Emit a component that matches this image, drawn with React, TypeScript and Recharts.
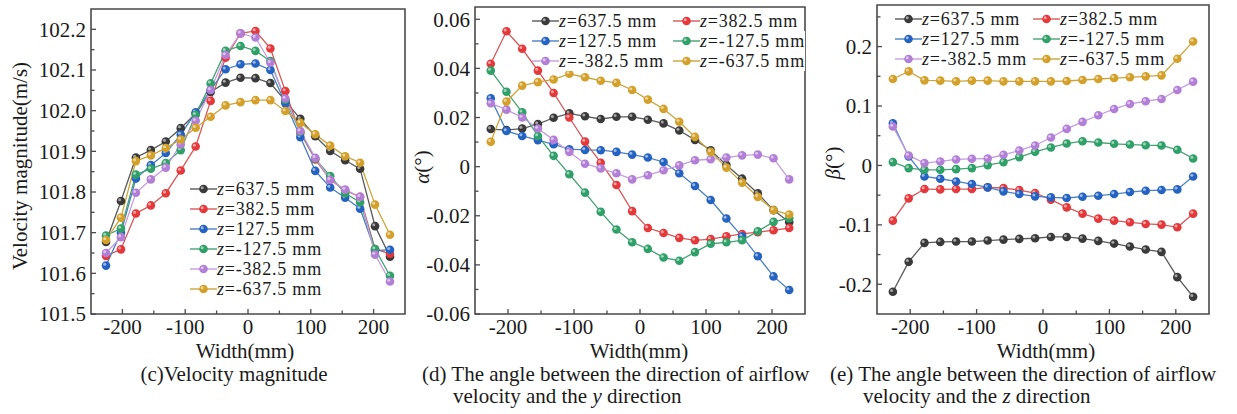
import React from "react";
import { LineChart, Line, XAxis, YAxis, ReferenceArea, Legend } from "recharts";

// measuring positions across the width (mm)
const widthMm = [
  -226.1, -202.3, -178.5, -154.7, -130.9, -107.1, -83.3, -59.5, -35.7, -11.9,
  11.9, 35.7, 59.5, 83.3, 107.1, 130.9, 154.7, 178.5, 202.3, 226.1,
];
const zLabels = ["637.5", "382.5", "127.5", "-127.5", "-382.5", "-637.5"];
const dotColors = ["#3a3a3a", "#e5383b", "#2563c2", "#2ea068", "#b27ed6", "#d3a02a"];
const lineColors = ["#5a5a5a", "#d65a5a", "#4a80c2", "#45a272", "#c49ce0", "#cba53c"];

const xMajor = [-200, -100, 0, 100, 200];
const xMinor = [-150, -50, 50, 150];

// (c) velocity magnitude, m/s
const vel637 = [101.677, 101.778, 101.885, 101.903, 101.924, 101.957, 101.993, 102.046, 102.069, 102.081, 102.08, 102.068, 102.024, 101.98, 101.937, 101.901, 101.878, 101.857, 101.716, 101.641];
const vel382 = [101.643, 101.659, 101.747, 101.767, 101.797, 101.853, 101.912, 102.024, 102.13, 102.19, 102.196, 102.153, 102.048, 101.945, 101.88, 101.83, 101.804, 101.788, 101.66, 101.648];
const vel127 = [101.619, 101.7, 101.833, 101.866, 101.896, 101.941, 101.996, 102.051, 102.102, 102.114, 102.116, 102.1, 102.018, 101.935, 101.852, 101.811, 101.786, 101.759, 101.656, 101.658];
const velM127 = [101.693, 101.71, 101.843, 101.857, 101.871, 101.903, 101.99, 102.067, 102.147, 102.159, 102.147, 102.122, 102.027, 101.948, 101.882, 101.839, 101.797, 101.775, 101.66, 101.594];
const velM382 = [101.65, 101.689, 101.798, 101.831, 101.86, 101.917, 101.975, 102.051, 102.137, 102.19, 102.18, 102.118, 102.03, 101.95, 101.884, 101.83, 101.806, 101.788, 101.646, 101.58];
const velM637 = [101.682, 101.737, 101.876, 101.89, 101.908, 101.929, 101.958, 101.985, 102.013, 102.021, 102.026, 102.026, 101.999, 101.97, 101.942, 101.914, 101.888, 101.872, 101.769, 101.695];
const velMajor = [101.5, 101.6, 101.7, 101.8, 101.9, 102.0, 102.1, 102.2];
const velMinor = [101.55, 101.65, 101.75, 101.85, 101.95, 102.05, 102.15];

// (d) alpha, degrees
const a637 = [0.0153, 0.0149, 0.0155, 0.0173, 0.0199, 0.0217, 0.0205, 0.0194, 0.0203, 0.0203, 0.0191, 0.0176, 0.0147, 0.0109, 0.0067, 0.0007, -0.0049, -0.0109, -0.0177, -0.0226];
const a382 = [0.0419, 0.0551, 0.048, 0.0391, 0.03, 0.02, 0.0102, 0.0016, -0.0075, -0.0181, -0.025, -0.027, -0.029, -0.03, -0.0295, -0.0284, -0.0274, -0.0267, -0.0259, -0.025];
const a127 = [0.0278, 0.0145, 0.0125, 0.0108, 0.0091, 0.0071, 0.0068, 0.0067, 0.006, 0.0049, 0.0037, 0.0019, -0.0027, -0.0079, -0.0136, -0.0211, -0.0284, -0.0365, -0.0447, -0.0502];
const aM127 = [0.0391, 0.0305, 0.0221, 0.0125, 0.0044, -0.0031, -0.0106, -0.0184, -0.0256, -0.0308, -0.0335, -0.037, -0.0383, -0.0348, -0.0314, -0.0308, -0.03, -0.0263, -0.0225, -0.021];
const aM382 = [0.0258, 0.0232, 0.02, 0.0155, 0.0109, 0.006, 0.0012, -0.0007, -0.0027, -0.0052, -0.0035, -0.0015, 0.0005, 0.0026, 0.003, 0.0037, 0.0046, 0.0049, 0.0034, -0.0052];
const aM637 = [0.0101, 0.0265, 0.033, 0.0344, 0.0355, 0.0378, 0.0364, 0.035, 0.0341, 0.0312, 0.0273, 0.0235, 0.0183, 0.0121, 0.006, -0.0004, -0.0065, -0.0123, -0.0177, -0.0195];
const alphaMajor = [-0.06, -0.04, -0.02, 0, 0.02, 0.04, 0.06];
const alphaMinor = [-0.05, -0.03, -0.01, 0.01, 0.03, 0.05];

// (e) beta, degrees
const b637 = [-0.2126, -0.1622, -0.1303, -0.1287, -0.1281, -0.1281, -0.1264, -0.1248, -0.1236, -0.1225, -0.1203, -0.1203, -0.1231, -0.127, -0.1315, -0.1365, -0.1415, -0.1455, -0.188, -0.221];
const b382 = [-0.0929, -0.0554, -0.0397, -0.0403, -0.0397, -0.0397, -0.0369, -0.038, -0.0414, -0.0464, -0.0576, -0.0705, -0.0811, -0.0895, -0.0929, -0.0957, -0.0985, -0.0996, -0.1041, -0.0811];
const b127 = [0.071, 0.0151, -0.0185, -0.0224, -0.0269, -0.0313, -0.0369, -0.0436, -0.0481, -0.052, -0.0537, -0.0548, -0.0526, -0.0509, -0.0481, -0.0448, -0.0425, -0.0414, -0.0403, -0.0185];
const bM127 = [0.0056, -0.0045, -0.0073, -0.0073, -0.0062, -0.0045, 0.0006, 0.0056, 0.014, 0.0229, 0.0302, 0.0369, 0.0408, 0.0386, 0.0364, 0.0352, 0.0341, 0.0336, 0.0263, 0.0117];
const bM382 = [0.0655, 0.0168, 0.0039, 0.0067, 0.0101, 0.0112, 0.0117, 0.0179, 0.0252, 0.0336, 0.047, 0.0615, 0.0733, 0.0845, 0.0951, 0.1035, 0.108, 0.1119, 0.127, 0.141];
const bM637 = [0.1455, 0.1583, 0.1432, 0.1427, 0.1415, 0.1427, 0.1427, 0.1415, 0.1415, 0.1415, 0.1415, 0.1421, 0.1438, 0.1455, 0.1471, 0.1483, 0.1499, 0.1516, 0.1796, 0.2087];
const betaMajor = [-0.2, -0.1, 0, 0.1, 0.2];
const betaMinor = [-0.15, -0.05, 0.05, 0.15, 0.25];

const FONT = "'Liberation Serif', 'Times New Roman', serif";
const INK = "#1a1a1a";
const FRAME = "#4a4a4a";

function Ball(props: any) {
  const { cx, cy, index, fill } = props;
  if (cx == null || cy == null) return <g key={index} />;
  return (
    <g key={index}>
      <circle cx={cx} cy={cy} r={4.3} fill={fill} />
      <circle cx={cx - 1.3} cy={cy - 1.3} r={1.5} fill="#fff" opacity={0.55} />
    </g>
  );
}

function makeXTick(gap: number) {
  return (p: any) => {
    const v = p.payload.value;
    const major = xMajor.includes(v);
    const ay = p.y - gap;
    return (
      <g>
        <line x1={p.x} x2={p.x} y1={ay} y2={ay - (major ? 5 : 3.5)} stroke={FRAME} strokeWidth={1.3} />
        {major && (
          <text x={p.x} y={p.y} dy="0.35em" textAnchor="middle" fontFamily={FONT} fontSize={21} fill={INK}>
            {String(v)}
          </text>
        )}
      </g>
    );
  };
}

function makeYTick(majors: number[], fmt: (v: number) => string, gap: number) {
  return (p: any) => {
    const v = p.payload.value;
    const major = majors.includes(v);
    const ax = p.x + gap;
    return (
      <g>
        <line x1={ax} x2={ax + (major ? 5 : 3.5)} y1={p.y} y2={p.y} stroke={FRAME} strokeWidth={1.3} />
        {major && (
          <text x={p.x} y={p.y} dy="0.35em" textAnchor="end" fontFamily={FONT} fontSize={21} fill={INK}>
            {fmt(v)}
          </text>
        )}
      </g>
    );
  };
}

function makeLegend(cols: number, colWidth: number, rowH: number) {
  return (props: any) => {
    const items = props.payload || [];
    return (
      <div
        style={{
          display: "grid",
          gridTemplateColumns: `repeat(${cols}, ${colWidth}px)`,
          fontFamily: FONT,
          fontSize: 18,
          letterSpacing: 0.8,
          color: INK,
        }}
      >
        {items.map((it: any, i: number) => {
          const k = Number(String(it.dataKey).slice(1));
          return (
            <div key={i} style={{ display: "flex", alignItems: "center", height: rowH, whiteSpace: "nowrap" }}>
              <svg width={27} height={rowH} style={{ display: "block", flex: "none" }}>
                <line x1={0} x2={27} y1={rowH / 2} y2={rowH / 2} stroke={lineColors[k]} strokeWidth={1.4} />
                <circle cx={13.5} cy={rowH / 2} r={4.3} fill={dotColors[k]} />
                <circle cx={12.2} cy={rowH / 2 - 1.3} r={1.5} fill="#fff" opacity={0.55} />
              </svg>
              <span style={{ background: "#fff", lineHeight: `${rowH}px` }}>
                <i>z</i>={it.value} mm
              </span>
            </div>
          );
        })}
      </div>
    );
  };
}

interface PanelProps {
  left: number;
  width: number;
  height: number;
  margin: { top: number; right: number; left: number; bottom: number };
  yWidth: number;
  yDomain: [number, number];
  yMajor: number[];
  yMinor: number[];
  yFmt: (v: number) => string;
  series: number[][];
  legend: { left: number; top: number; cols: number; colWidth: number; rowH: number };
}

function Panel(p: PanelProps) {
  const rows = widthMm.map((w, i) => {
    const r: Record<string, number> = { w };
    p.series.forEach((s, k) => {
      r["s" + k] = s[i];
    });
    return r;
  });
  return (
    <div style={{ position: "absolute", left: p.left, top: 0 }}>
      <LineChart width={p.width} height={p.height} data={rows} margin={p.margin}>
        <XAxis
          dataKey="w"
          type="number"
          domain={[-250, 250]}
          ticks={[...xMajor, ...xMinor]}
          interval={0}
          tickSize={0}
          tickMargin={13}
          tickLine={false}
          axisLine={false}
          tick={makeXTick(13)}
          height={p.height - 314 - p.margin.bottom}
        />
        <YAxis
          type="number"
          domain={p.yDomain}
          ticks={[...p.yMajor, ...p.yMinor]}
          interval={0}
          tickSize={0}
          tickMargin={5}
          tickLine={false}
          axisLine={false}
          tick={makeYTick(p.yMajor, p.yFmt, 5)}
          width={p.yWidth}
        />
        <ReferenceArea
          x1={-250}
          x2={250}
          y1={p.yDomain[0]}
          y2={p.yDomain[1]}
          fill="none"
          fillOpacity={0}
          stroke={FRAME}
          strokeWidth={1.6}
        />
        {p.series.map((_, k) => (
          <Line
            key={k}
            dataKey={"s" + k}
            name={zLabels[k]}
            type="linear"
            stroke={lineColors[k]}
            strokeWidth={1.3}
            dot={(dp: any) => <Ball {...dp} key={dp.index} fill={dotColors[k]} />}
            activeDot={false}
            isAnimationActive={false}
          />
        ))}
        <Legend
          layout="vertical"
          align="center"
          verticalAlign="middle"
          itemSorter="dataKey"
          content={makeLegend(p.legend.cols, p.legend.colWidth, p.legend.rowH)}
          wrapperStyle={{ left: p.legend.left, top: p.legend.top, width: "auto", height: "auto" }}
        />
      </LineChart>
    </div>
  );
}

const textStyle: React.CSSProperties = {
  position: "absolute",
  fontFamily: FONT,
  fontSize: 21,
  color: INK,
  whiteSpace: "nowrap",
  lineHeight: "20px",
};

function Centered({ x, y, children }: { x: number; y: number; children: React.ReactNode }) {
  return <div style={{ ...textStyle, left: x, top: y, transform: "translate(-50%, -50%)" }}>{children}</div>;
}

function Rotated({ x, y, children }: { x: number; y: number; children: React.ReactNode }) {
  return (
    <div style={{ ...textStyle, left: x, top: y, transform: "translate(-50%, -50%) rotate(-90deg)" }}>{children}</div>
  );
}

function LeftText({ x, y, children }: { x: number; y: number; children: React.ReactNode }) {
  return <div style={{ ...textStyle, left: x, top: y - 10 }}>{children}</div>;
}

export default function App() {
  return (
    <div style={{ position: "absolute", left: 0, top: 0, width: 1237, height: 414, background: "#fff", overflow: "hidden" }}>
      <Panel
        left={0}
        width={410}
        height={360}
        margin={{ top: 9, right: 5, left: 0, bottom: 0 }}
        yWidth={91}
        yDomain={[101.5, 102.25]}
        yMajor={velMajor}
        yMinor={velMinor}
        yFmt={(v) => v.toFixed(1)}
        series={[vel637, vel382, vel127, velM127, velM382, velM637]}
        legend={{ left: 190, top: 179, cols: 1, colWidth: 160, rowH: 20 }}
      />
      <Panel
        left={410}
        width={400}
        height={360}
        margin={{ top: 7, right: 5, left: 0, bottom: 0 }}
        yWidth={65}
        yDomain={[-0.06, 0.065]}
        yMajor={alphaMajor}
        yMinor={alphaMinor}
        yFmt={(v) => String(v)}
        series={[a637, a382, a127, aM127, aM382, aM637]}
        legend={{ left: 122, top: 10.5, cols: 2, colWidth: 141, rowH: 20 }}
      />
      <Panel
        left={820}
        width={395}
        height={360}
        margin={{ top: 5, right: 6, left: 0, bottom: 0 }}
        yWidth={57}
        yDomain={[-0.25, 0.27]}
        yMajor={betaMajor}
        yMinor={betaMinor}
        yFmt={(v) => String(v)}
        series={[b637, b382, b127, bM127, bM382, bM637]}
        legend={{ left: 75, top: 9, cols: 2, colWidth: 138, rowH: 20 }}
      />

      <Rotated x={20} y={166}>Velocity magnitude(m/s)</Rotated>
      <Rotated x={422} y={167}>
        <i>α</i>(°)
      </Rotated>
      <Rotated x={833} y={163}>
        <i>β</i>(°)
      </Rotated>

      <Centered x={245} y={351}>Width(mm)</Centered>
      <Centered x={639} y={351}>Width(mm)</Centered>
      <Centered x={1046} y={351}>Width(mm)</Centered>

      <Centered x={234} y={374}>(c)Velocity magnitude</Centered>
      <LeftText x={422} y={374}>(d) The angle between the direction of airflow</LeftText>
      <LeftText x={453} y={396}>
        velocity and the <i>y</i> direction
      </LeftText>
      <LeftText x={830} y={374}>(e) The angle between the direction of airflow</LeftText>
      <LeftText x={863} y={396}>
        velocity and the <i>z</i> direction
      </LeftText>
    </div>
  );
}
